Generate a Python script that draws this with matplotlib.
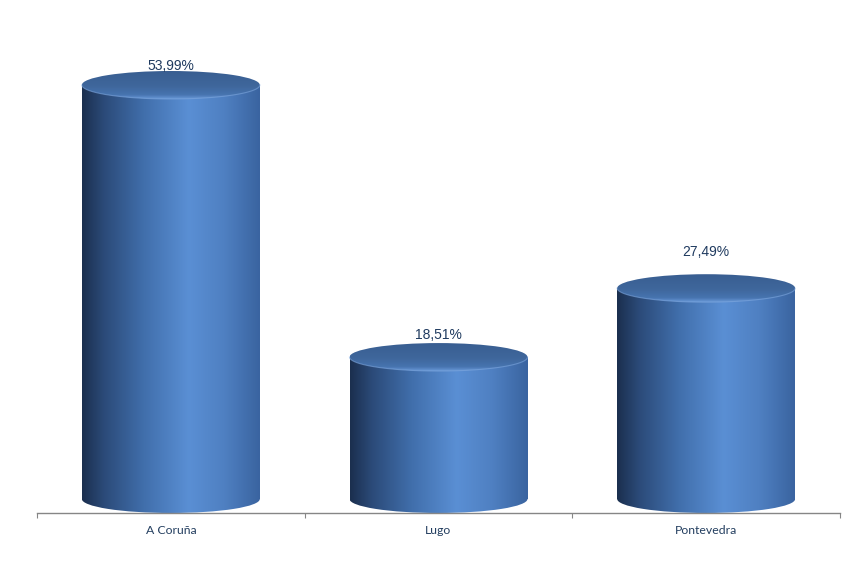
import numpy as np
import matplotlib
matplotlib.use("Agg")
import matplotlib.pyplot as plt
from matplotlib.patches import Ellipse, Rectangle
from matplotlib.colors import LinearSegmentedColormap

categories = ["A Coruña", "Lugo", "Pontevedra"]
values = [53.99, 18.51, 27.49]
labels = ["53,99%", "18,51%", "27,49%"]

W, H = 867, 561
fig = plt.figure(figsize=(W / 100, H / 100), dpi=100)
fig.patch.set_facecolor("white")

px_per_unit = 414 / 53.99
axis_px = 513
zero_px = 499
top_px = 20
ax = fig.add_axes([37 / W, (H - axis_px) / H, 803 / W, (axis_px - top_px) / H])
ax.set_xlim(0, 3)
ax.set_ylim(-(axis_px - zero_px) / px_per_unit, (zero_px - top_px) / px_per_unit)
ax.set_facecolor("none")

bar_w = 0.665
ell_h = 28 / px_per_unit

body_cmap = LinearSegmentedColormap.from_list(
    "body", [(0.0, "#1b2f4e"), (0.12, "#2b4a78"), (0.35, "#416fac"),
             (0.6, "#5a8fd4"), (0.8, "#4f80c2"), (1.0, "#3a64a0")])
top_cmap = LinearSegmentedColormap.from_list(
    "top", [(0.0, "#395e91"), (0.55, "#3f679c"), (0.85, "#4774b0"), (1.0, "#6a9ad8")])

grad = np.linspace(0, 1, 256).reshape(1, -1)
vgrad = np.linspace(0, 1, 256).reshape(-1, 1)

for i, (cat, v, lab) in enumerate(zip(categories, values, labels)):
    xc = i + 0.5
    x0, x1 = xc - bar_w / 2, xc + bar_w / 2
    rect = Rectangle((x0, 0), bar_w, v, facecolor="none", edgecolor="none")
    bot = Ellipse((xc, 0), bar_w, ell_h, facecolor="none", edgecolor="none")
    ax.add_patch(rect)
    ax.add_patch(bot)
    for clip in (rect, bot):
        im = ax.imshow(grad, cmap=body_cmap, aspect="auto",
                       extent=(x0, x1, -ell_h, v), origin="lower", zorder=2,
                       interpolation="bilinear")
        im.set_clip_path(clip)
    top = Ellipse((xc, v), bar_w, ell_h, facecolor="none", edgecolor="none", zorder=3)
    ax.add_patch(top)
    imt = ax.imshow(vgrad, cmap=top_cmap, aspect="auto",
                    extent=(x0, x1, v - ell_h / 2, v + ell_h / 2), origin="upper",
                    zorder=3, interpolation="bilinear")
    imt.set_clip_path(top)
    t = np.linspace(np.pi, 2 * np.pi, 100)
    ax.plot(xc + bar_w / 2 * np.cos(t), v + ell_h / 2 * np.sin(t),
            color="#7ea7de", lw=0.8, alpha=0.6, zorder=4)

label_offsets = [19, 22, 36]
for i, (v, lab) in enumerate(zip(values, labels)):
    ax.annotate(lab, (i + 0.5, v), xytext=(0, label_offsets[i] * 0.72),
                textcoords="offset points", ha="center", va="center",
                fontsize=10, color="#1f3a5f", family="Liberation Sans", zorder=5)

for s in ["top", "right", "left"]:
    ax.spines[s].set_visible(False)
ax.spines["bottom"].set_color("#868686")
ax.spines["bottom"].set_linewidth(1.0)
ax.set_yticks([])
ax.set_xticks([0, 1, 2, 3])
ax.set_xticklabels([])
ax.tick_params(axis="x", which="major", length=3.5, color="#868686", direction="out")
ax.set_xticks([0.5, 1.5, 2.5], minor=True)
ax.set_xticklabels(categories, minor=True, fontsize=8.8, color="#243f60", family="Lato")
ax.tick_params(axis="x", which="minor", length=0, pad=9)

fig.savefig("out.png", dpi=100, facecolor="white")
